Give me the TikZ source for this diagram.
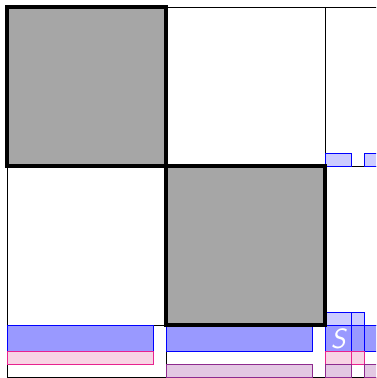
\documentclass[tikz,border=0pt]{standalone}
\definecolor{gfill}{HTML}{A6A6A6}
\definecolor{bfill}{HTML}{9999FF}
\definecolor{lbfill}{HTML}{CCCCFF}
\definecolor{pfill}{HTML}{F8D4E4}
\definecolor{pline}{HTML}{E8228F}
\definecolor{vfill}{HTML}{E3C8E3}
\definecolor{vline}{HTML}{8E2A8E}
\begin{document}
\begin{tikzpicture}[x=1pt,y=-1pt,
  grid/.style={draw=black,line width=1pt},
  sq/.style={draw=black,line width=3.8pt,fill=gfill},
  bbox/.style={draw=blue,line width=1pt,fill=bfill},
  lbbox/.style={draw=blue,line width=1pt,fill=lbfill},
  pbox/.style={draw=pline,line width=1pt,fill=pfill},
  vbox/.style={draw=vline,line width=1pt,fill=vfill}]
\useasboundingbox (0,0) rectangle (376,378);
\begin{scope}
\clip (0,0) rectangle (376,378);
% grid
\draw[grid] (7,7) -- (380,7);
\draw[grid] (7,166) -- (380,166);
\draw[grid] (7,325) -- (380,325);
\draw[grid] (7,377) -- (380,377);
\draw[grid] (7,7) -- (7,377);
\draw[grid] (166,7) -- (166,377);
\draw[grid] (325,7) -- (325,377);
% top-right light blue boxes
\draw[lbbox] (325,153) rectangle (351.5,166);
\draw[lbbox] (364,153) rectangle (390,166);
% bottom boxes
\draw[bbox] (7,325) rectangle (153,351.5);
\draw[pbox] (7,351.5) rectangle (153,364.5);
\draw[bbox] (166,325) rectangle (312,351.5);
\draw[vbox] (166,364.5) rectangle (312,377);
\draw[lbbox] (325,312) rectangle (351.5,325);
\draw[lbbox] (351.5,312) rectangle (364,325);
\draw[bbox] (325,325) rectangle (351.5,351.5);
\draw[bbox] (351.5,325) rectangle (364,351.5);
\draw[bbox] (364,325) rectangle (390,351.5);
\draw[pbox] (325,351.5) rectangle (351.5,364.5);
\draw[pbox] (351.5,351.5) rectangle (364,364.5);
\draw[vbox] (325,364.5) rectangle (351.5,377);
\draw[vbox] (364,364.5) rectangle (390,377);
\node[text=white,font=\sffamily\itshape\fontsize{28}{28}\selectfont,inner sep=0pt] (s) at (338.3,339) {S};
% thick squares
\draw[sq] (7,7) rectangle (166,166);
\draw[sq] (166,166) rectangle (325,325);
\end{scope}
\end{tikzpicture}
\end{document}
